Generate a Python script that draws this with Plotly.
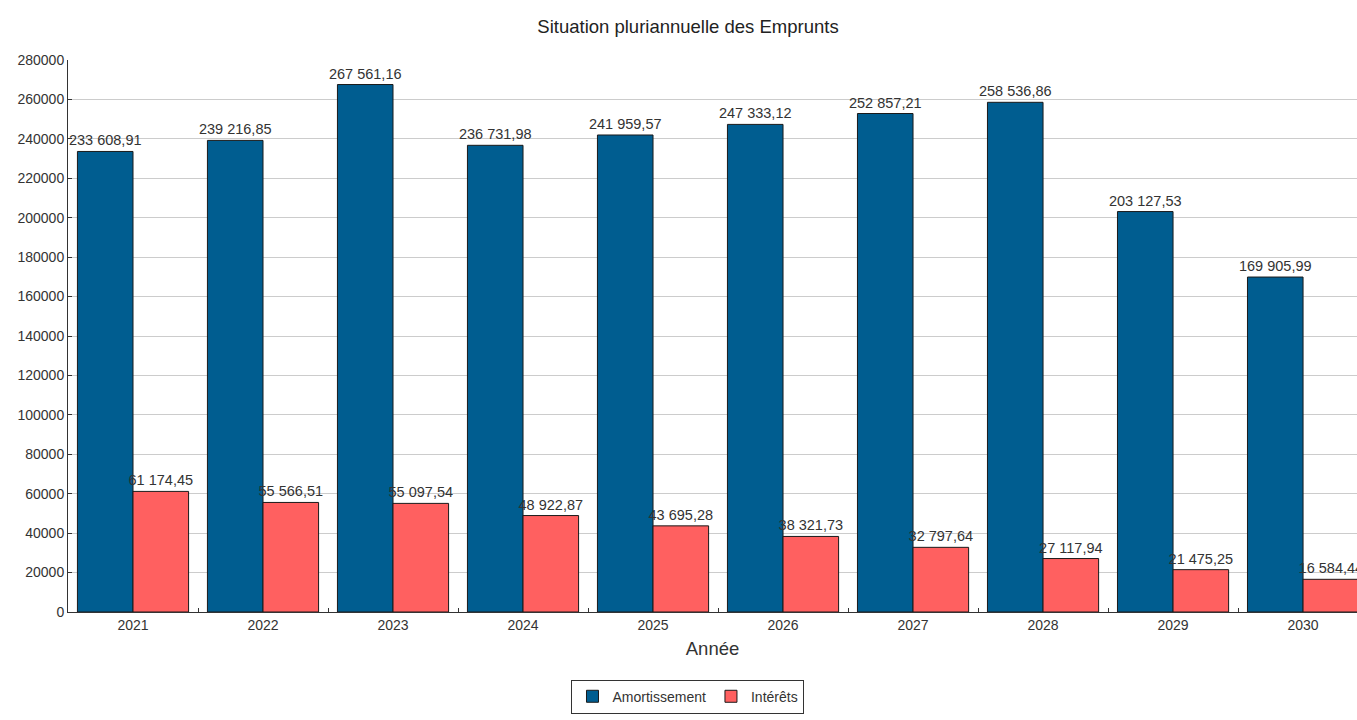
import plotly.graph_objects as go

years = ["2021", "2022", "2023", "2024", "2025", "2026", "2027", "2028", "2029", "2030"]
amortissement = [233608.91, 239216.85, 267561.16, 236731.98, 241959.57, 247333.12, 252857.21, 258536.86, 203127.53, 169905.99]
interets = [61174.45, 55566.51, 55097.54, 48922.87, 43695.28, 38321.73, 32797.64, 27117.94, 21475.25, 16584.44]
y_ticks = list(range(0, 280001, 20000))


def fmt(v):
    s = f"{v:,.2f}"
    return s.replace(",", " ").replace(".", ",")


label_font = dict(family="Liberation Sans, Arial", size=14.5, color="#333333")

fig = go.Figure()
fig.add_trace(go.Bar(
    name="Amortissement", x=years, y=amortissement,
    marker=dict(color="#005D90", line=dict(color="#1a1a1a", width=1)),
    text=[fmt(v) for v in amortissement], textposition="outside",
    constraintext="none", cliponaxis=False, textfont=label_font,
))
fig.add_trace(go.Bar(
    name="Intérêts", x=years, y=interets,
    marker=dict(color="#FF6060", line=dict(color="#1a1a1a", width=1)),
    text=[fmt(v) for v in interets], textposition="outside",
    constraintext="none", cliponaxis=False, textfont=label_font,
))

fig.update_layout(
    width=1357, height=720,
    barmode="group", bargap=0.145, bargroupgap=0,
    plot_bgcolor="white", paper_bgcolor="white",
    margin=dict(l=68, r=0, t=60, b=108),
    font=dict(family="Liberation Sans, Arial", size=14, color="#333333"),
    title=dict(text="Situation pluriannuelle des Emprunts", xref="container", x=0.507,
               xanchor="center", yref="container", y=0.963, yanchor="middle",
               font=dict(size=18.5, color="#222222")),
    showlegend=True,
    legend=dict(orientation="h", xref="container", x=0.507, xanchor="center",
                yref="container", y=0.056, yanchor="top",
                bordercolor="#333333", borderwidth=1, font=dict(size=14),
                itemwidth=30),
    xaxis=dict(type="category", range=[-0.5, 9.415],
               showline=True, linecolor="#333333", linewidth=1,
               ticks="inside", tickson="boundaries", ticklen=4, tickcolor="#333333",
               tickfont=dict(size=14),
               title=dict(text="Année", font=dict(size=18.5, color="#333333"), standoff=10)),
    yaxis=dict(range=[0, 280000], tickvals=y_ticks, ticktext=[str(v) for v in y_ticks],
               showline=True, linecolor="#333333", linewidth=1,
               ticks="inside", ticklen=4, tickcolor="#333333",
               showgrid=True, gridcolor="#cccccc", gridwidth=1,
               tickfont=dict(size=14), zeroline=False),
)

fig.write_html("out.html")
